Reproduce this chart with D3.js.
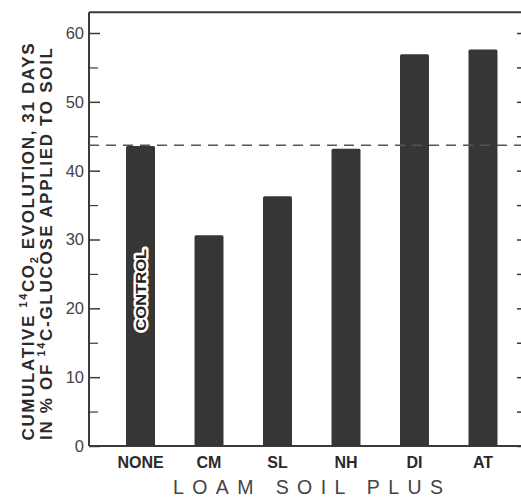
<!DOCTYPE html>
<html>
<head>
<meta charset="utf-8">
<script src="https://cdn.jsdelivr.net/npm/d3@7"></script>
<style>
  body { margin: 0; background: #fff; }
  text { font-family: "Liberation Sans", Arial, sans-serif; fill: #2a2a2a; }
</style>
</head>
<body>
<div id="chart"></div>
<script>
const categories = ["NONE", "CM", "SL", "NH", "DI", "AT"];
const values = [43.6, 30.6, 36.3, 43.2, 56.9, 57.6];
const controlLevel = 43.7;
const majorTicks = [0, 10, 20, 30, 40, 50, 60];
const minorTicks = [5, 15, 25, 35, 45, 55];

const width = 521,
    height = 498,
    margin = ({ top: 33, right: 0, bottom: 52, left: 89 });

const svg = d3.select("#chart")
    .append("svg")
    .attr("width", width)
    .attr("height", height);

let x = d3.scaleBand()
    .domain(categories)
    .range([90, 533.5])
    .paddingInner(0.577)
    .paddingOuter(0.526);

let y = d3.scaleLinear()
    .domain([0, 60])
    .range([height - margin.bottom, margin.top]);

const frameRight = 521;
const ink = "#3a3a3a";

// frame: top + bottom lines
svg.append("line")
    .attr("x1", margin.left).attr("x2", frameRight)
    .attr("y1", y(63)).attr("y2", y(63))
    .attr("stroke", ink).attr("stroke-width", 2);

svg.append("line")
    .attr("x1", margin.left).attr("x2", frameRight)
    .attr("y1", y(0)).attr("y2", y(0))
    .attr("stroke", ink).attr("stroke-width", 2);

// left axis, ticks pointing inward
let left = svg.append("g")
    .attr("transform", `translate(${margin.left},0)`)
    .call(d3.axisRight(y).tickValues(majorTicks).tickSize(11).tickFormat(""));
left.select(".domain").remove();
left.append("line")
    .attr("y1", y(0)).attr("y2", y(63))
    .attr("stroke", ink).attr("stroke-width", 2);
left.selectAll(".tick line").attr("stroke", ink).attr("stroke-width", 1.5);

let leftMinor = svg.append("g")
    .attr("transform", `translate(${margin.left},0)`)
    .call(d3.axisRight(y).tickValues(minorTicks).tickSize(9).tickFormat(""));
leftMinor.select(".domain").remove();
leftMinor.selectAll(".tick line").attr("stroke", ink).attr("stroke-width", 1.2);

svg.selectAll(".ylab")
    .data(majorTicks)
    .join("text")
    .attr("class", "ylab")
    .attr("x", 84)
    .attr("y", d => y(d))
    .attr("dy", "0.36em")
    .attr("text-anchor", "end")
    .attr("font-size", 16.5)
    .style("fill", "#444")
    .text(d => d);

// right axis, mostly off the edge
let right = svg.append("g")
    .attr("transform", `translate(${frameRight},0)`)
    .call(d3.axisLeft(y).tickValues(majorTicks.concat(minorTicks)).tickSize(4).tickFormat(""));
right.select(".domain").remove();
right.selectAll(".tick line").attr("stroke", ink).attr("stroke-width", 1.5);

// bars
svg.selectAll(".bar")
    .data(values)
    .join("rect")
    .attr("class", "bar")
    .attr("x", (d, i) => x(categories[i]))
    .attr("width", x.bandwidth())
    .attr("y", d => y(d))
    .attr("height", d => y(0) - y(d))
    .attr("rx", 1.5)
    .attr("fill", "#363636");

// control dashed line
svg.append("line")
    .attr("x1", margin.left).attr("x2", frameRight)
    .attr("y1", y(controlLevel)).attr("y2", y(controlLevel))
    .attr("stroke", "#555")
    .attr("stroke-width", 1.5)
    .attr("stroke-dasharray", "10,7");

// CONTROL label on first bar
let cx = x(categories[0]) + x.bandwidth() / 2;
svg.append("text")
    .attr("transform", `translate(${cx + 5.5},${y(22.7)}) rotate(-90)`)
    .attr("text-anchor", "middle")
    .attr("font-size", 15)
    .attr("font-weight", "bold")
    .attr("textLength", 82)
    .attr("lengthAdjust", "spacingAndGlyphs")
    .attr("stroke", "#fff")
    .attr("stroke-width", 5)
    .attr("stroke-linejoin", "round")
    .attr("paint-order", "stroke")
    .style("fill", "#222")
    .text("CONTROL");

// category labels
svg.selectAll(".xlab")
    .data(categories)
    .join("text")
    .attr("class", "xlab")
    .attr("x", d => x(d) + x.bandwidth() / 2)
    .attr("y", 468)
    .attr("text-anchor", "middle")
    .attr("font-size", 16)
    .attr("font-weight", "bold")
    .text(d => d);

// axis titles
svg.append("text")
    .attr("x", 308)
    .attr("y", 494)
    .attr("text-anchor", "middle")
    .attr("font-size", 19.5)
    .attr("textLength", 270)
    .attr("lengthAdjust", "spacing")
    .style("fill", "#444")
    .text("LOAM  SOIL  PLUS");

let yTitle = svg.append("g")
    .attr("transform", "translate(0,242) rotate(-90)");

let t1 = yTitle.append("text")
    .attr("x", 0).attr("y", 34)
    .attr("text-anchor", "middle")
    .attr("font-size", 17)
    .attr("font-weight", "bold")
    .attr("textLength", 397)
    .attr("lengthAdjust", "spacing");
t1.append("tspan").text("CUMULATIVE  ");
t1.append("tspan").attr("font-size", 11).attr("dy", -7).text("14");
t1.append("tspan").attr("dy", 7).text("CO");
t1.append("tspan").attr("font-size", 11).attr("dy", 4).text("2");
t1.append("tspan").attr("dy", -4).text("  EVOLUTION, 31  DAYS");

let t2 = yTitle.append("text")
    .attr("x", -2).attr("y", 52)
    .attr("text-anchor", "middle")
    .attr("font-size", 17)
    .attr("font-weight", "bold")
    .attr("textLength", 392)
    .attr("lengthAdjust", "spacing");
t2.append("tspan").text("IN % OF ");
t2.append("tspan").attr("font-size", 11).attr("dy", -7).text("14");
t2.append("tspan").attr("dy", 7).text("C-GLUCOSE  APPLIED  TO  SOIL");
</script>
</body>
</html>
